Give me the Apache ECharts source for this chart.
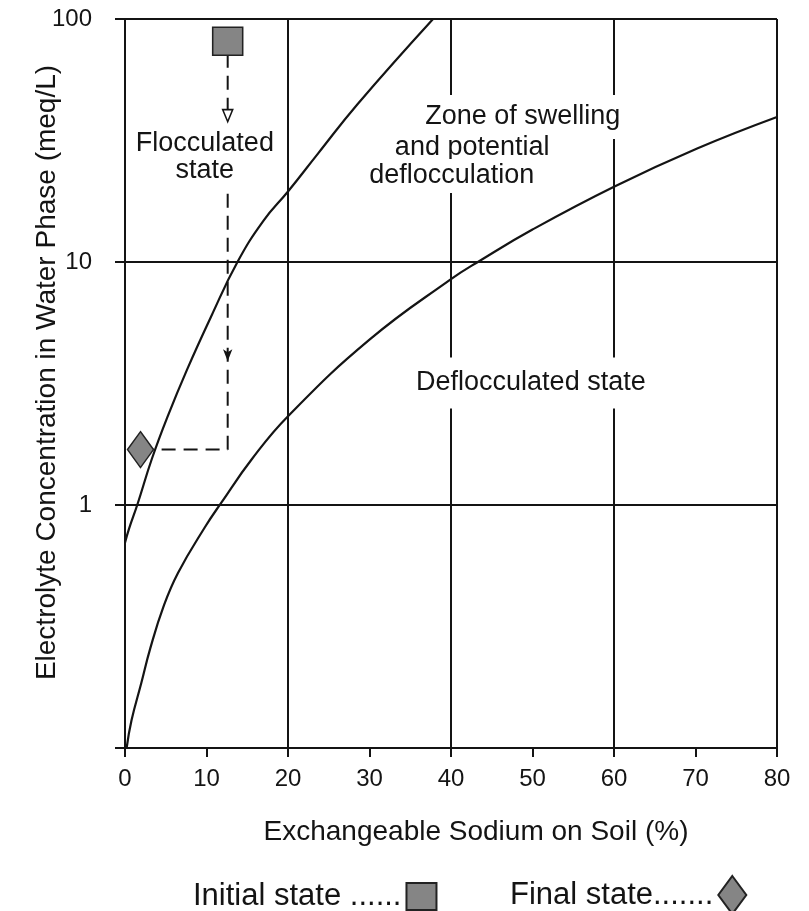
<!DOCTYPE html>
<html><head><meta charset="utf-8">
<script src="https://cdn.jsdelivr.net/npm/echarts@6/dist/echarts.min.js"></script>
<style>html,body{margin:0;padding:0;background:#fff}#c{width:809px;height:911px}</style>
</head><body><div id="c"></div>
<script>
const FONT = "'Liberation Sans', Arial, Helvetica, sans-serif";
const INK = '#141414';

// Axis ticks
const xTickValues = [0, 10, 20, 30, 40, 50, 60, 70, 80];
const yTickLabels = ['1', '10', '100'];

// Upper boundary curve (flocculated / swelling)
const upperX = [0, 0.5, 1.5, 3.3, 5.2, 7.6, 10.6, 13.8, 17, 20, 23.7, 28.5, 37.8];
const upperY = [0.7, 0.8, 1, 1.55, 2.3, 3.6, 6.0, 10, 14.8, 19.5, 28, 44.5, 100];

// Lower boundary curve (swelling / deflocculated)
const lowerX = [0.2, 0.8, 2, 3.1, 4.7, 6.5, 9.8, 11.8, 15.6, 20, 30, 40, 43.5, 50, 60, 70.2, 80];
const lowerY = [0.1, 0.13, 0.185, 0.257, 0.38, 0.525, 0.81, 1.02, 1.55, 2.32, 4.79, 8.5, 10.1, 13.6, 20.4, 29.3, 39.5];

// States
const initialState = [12.6, 81];
const finalState = [1.9, 1.69];

// Dashed path from initial to final state
const pathTopX = [12.6, 12.6];
const pathTopY = [72, 40];
const pathBottomX = [12.6, 12.6, 12.6, 3.2];
const pathBottomY = [19.1, 3.9, 1.69, 1.69];

// Annotations (data coordinates)
const noteText = ['Flocculated\nstate', 'Zone of swelling', 'and potential', 'deflocculation', 'Deflocculated state'];
const noteX = [9.8, 48.8, 42.6, 40.1, 49.8];
const noteY = [27.0, 39.5, 29.7, 22.6, 3.18];
const notePad = [[0, 0, 0, 0], [16, 8, 1, 8], [1, 8, 1, 8], [1, 8, 6, 8], [12, 6, 12, 6]];

const pairs = (xs, ys) => xs.map((x, i) => [x, ys[i]]);

const chart = echarts.init(document.getElementById('c'), null, {renderer: 'canvas'});

const gridLine = {show: true, lineStyle: {color: INK, width: 2}};

const option = {
  animation: false,
  backgroundColor: '#fff',
  textStyle: {fontFamily: FONT, color: INK},
  grid: {left: 125, right: 32, top: 19, bottom: 163, containLabel: false},
  xAxis: [
    {
      type: 'value', min: 0, max: 80, interval: 10,
      axisLine: {show: true, lineStyle: {color: INK, width: 2}},
      axisTick: {show: true, length: 9, lineStyle: {color: INK, width: 2}},
      axisLabel: {fontSize: 24, margin: 19, color: INK, fontFamily: FONT,
        formatter: v => xTickValues.includes(Math.round(v)) ? String(Math.round(v)) : ''},
      splitLine: {show: false},
      name: 'Exchangeable Sodium on Soil (%)',
      nameLocation: 'middle', nameGap: 70,
      nameTextStyle: {fontSize: 28, color: INK, fontFamily: FONT, padding: [0, 0, 0, 50]}
    },
    {
      type: 'value', min: 0, max: 80, interval: 20, position: 'bottom',
      axisLine: {show: false}, axisTick: {show: false}, axisLabel: {show: false},
      splitLine: gridLine
    }
  ],
  yAxis: {
    type: 'log', logBase: 10, min: 0.1, max: 100,
    axisLine: {show: true, lineStyle: {color: INK, width: 2}},
    axisTick: {show: true, length: 10, lineStyle: {color: INK, width: 2}},
    axisLabel: {fontSize: 24, margin: 33, color: INK, fontFamily: FONT,
      formatter: v => { const s = String(Math.round(v)); return (v > 0.5 && yTickLabels.includes(s)) ? s : ''; }},
    splitLine: gridLine,
    minorTick: {show: false},
    name: 'Electrolyte Concentration in Water Phase (meq/L)',
    nameLocation: 'middle', nameGap: 64, nameMoveOverlap: false,
    nameTextStyle: {fontSize: 28, color: INK, fontFamily: FONT, padding: [0, 0, 0, 22]}
  },
  legend: [
    {
      data: ['Initial state ......'], left: 188, top: 876, align: 'right',
      itemWidth: 30, itemHeight: 27, selectedMode: false,
      textStyle: {fontSize: 31, color: INK, fontFamily: FONT}
    },
    {
      data: ['Final state.......'], left: 505, top: 870, align: 'right',
      itemWidth: 28, itemHeight: 38, selectedMode: false,
      textStyle: {fontSize: 31, color: INK, fontFamily: FONT}
    }
  ],
  series: [
    {
      name: 'upper', type: 'line', smooth: 0.45, symbol: 'none', silent: true,
      lineStyle: {color: INK, width: 2.2}, data: pairs(upperX, upperY), z: 3
    },
    {
      name: 'lower', type: 'line', smooth: 0.45, symbol: 'none', silent: true,
      lineStyle: {color: INK, width: 2.2}, data: pairs(lowerX, lowerY), z: 3
    },
    {
      name: 'pathTop', type: 'line', silent: true, showSymbol: true, symbol: 'none',
      lineStyle: {color: INK, width: 2, type: [14, 8]},
      data: pairs(pathTopX, pathTopY).map((p, i) => i === pathTopX.length - 1
        ? {value: p, symbol: 'triangle', symbolSize: [10, 12], symbolRotate: 180,
           itemStyle: {color: '#fff', borderColor: INK, borderWidth: 1.6}}
        : {value: p, symbol: 'none'}),
      z: 4
    },
    {
      name: 'pathBottom', type: 'line', silent: true, showSymbol: true, symbol: 'none',
      lineStyle: {color: INK, width: 2, type: [14, 8]},
      data: pairs(pathBottomX, pathBottomY).map((p, i) => i === 1
        ? {value: p, symbol: 'arrow', symbolSize: [7, 12], symbolRotate: 180, itemStyle: {color: INK}}
        : {value: p, symbol: 'none'}),
      z: 4
    },
    {
      name: 'Initial state ......', type: 'scatter', silent: true,
      symbol: 'rect', symbolSize: [30, 28],
      itemStyle: {color: '#858585', borderColor: '#222', borderWidth: 1.5, opacity: 1},
      data: [initialState], z: 6
    },
    {
      name: 'Final state.......', type: 'scatter', silent: true,
      symbol: 'diamond', symbolSize: [26, 36],
      itemStyle: {color: '#858585', borderColor: '#222', borderWidth: 1.5, opacity: 1},
      data: [finalState], z: 6
    },
    {
      name: 'notes', type: 'scatter', silent: true, symbolSize: 0,
      itemStyle: {opacity: 1},
      data: pairs(noteX, noteY).map((p, i) => ({
        value: p,
        label: {
          show: true, position: 'inside', formatter: noteText[i], opacity: 1,
          fontSize: 27, lineHeight: 27, color: INK, fontFamily: FONT, align: 'center',
          backgroundColor: i === 0 ? 'transparent' : '#fff', padding: notePad[i]
        }
      })),
      z: 5
    }
  ]
};
chart.setOption(option);
</script>
</body></html>
